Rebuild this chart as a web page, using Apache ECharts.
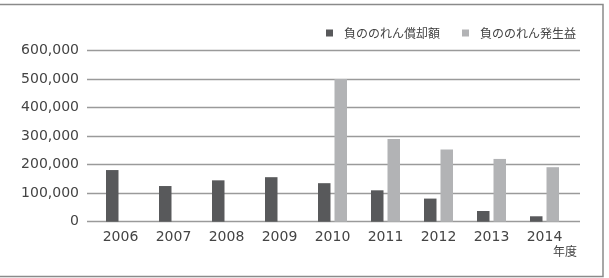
<!DOCTYPE html>
<html>
<head>
<meta charset="utf-8">
<script src="https://cdn.jsdelivr.net/npm/echarts@6/dist/echarts.min.js"></script>
<style>
  html, body { margin: 0; padding: 0; background: #fff; }
  #chart { width: 609px; height: 278px; }
</style>
</head>
<body>
<div id="chart"></div>
<script>
// data
const years = ["2006", "2007", "2008", "2009", "2010", "2011", "2012", "2013", "2014"];
const amortization = [181000, 125000, 145000, 156000, 135000, 110000, 81000, 37500, 19000];
const gain = [null, null, null, null, 500000, 290000, 253000, 220000, 191000];
const seriesNames = ["負ののれん償却額", "負ののれん発生益"];
const xName = "年度";

const font = "DejaVu Sans, 'Noto Sans CJK JP', sans-serif";
const cjkFont = "'Noto Sans CJK JP', sans-serif";

const chart = echarts.init(document.getElementById("chart"));

const option = {
  animation: false,
  backgroundColor: "#fff",
  // outer frame
  graphic: [
    {
      type: "rect",
      shape: { x: -2, y: 4.5, width: 605, height: 272 },
      style: { fill: "none", stroke: "#8a8a8a", lineWidth: 1.5 },
      silent: true,
    },
  ],
  legend: {
    left: 321,
    top: 22,
    icon: "rect",
    itemWidth: 7,
    itemHeight: 7,
    itemGap: 22,
    data: seriesNames,
    textStyle: {
      fontFamily: cjkFont,
      fontSize: 12,
      color: "#444",
      padding: [0, 0, 0, 6],
    },
  },
  grid: [
    // grid for the value axis and the gridlines (slightly wider)
    { left: 87, right: 29, top: 50.5, bottom: 56.3 },
    // grid for the bars
    { left: 94, right: 38, top: 50.5, bottom: 56.3 },
  ],
  xAxis: [
    {
      gridIndex: 0,
      type: "category",
      data: years,
      show: false,
    },
    {
      gridIndex: 1,
      type: "category",
      data: years,
      axisLine: { show: false },
      axisTick: { show: false },
      axisLabel: {
        color: "#444",
        fontFamily: font,
        fontSize: 14,
        margin: 9,
      },
    },
  ],
  yAxis: [
    {
      gridIndex: 0,
      type: "value",
      min: 0,
      max: 600000,
      interval: 100000,
      axisLine: { show: false },
      axisTick: { show: false },
      axisLabel: {
        color: "#444",
        fontFamily: font,
        fontSize: 14,
        margin: 8,
        formatter: (v) => v.toLocaleString("en-US"),
      },
      splitLine: { lineStyle: { color: "#9a9a9a", width: 1.3 } },
    },
    {
      gridIndex: 1,
      type: "value",
      min: 0,
      max: 600000,
      interval: 100000,
      show: false,
      splitLine: { show: false },
    },
  ],
  series: [
    {
      name: seriesNames[0],
      type: "bar",
      xAxisIndex: 1,
      yAxisIndex: 1,
      data: amortization,
      barWidth: 12.5,
      barGap: "32%",
      itemStyle: { color: "#58595b" },
    },
    {
      name: seriesNames[1],
      type: "bar",
      xAxisIndex: 1,
      yAxisIndex: 1,
      data: gain,
      barWidth: 12.5,
      itemStyle: { color: "#b2b3b5" },
    },
  ],
};

chart.setOption(option);

// axis unit label under the last category
chart.setOption({
  graphic: [
    option.graphic[0],
    {
      type: "text",
      left: 553,
      top: 245,
      style: { text: xName, font: "12px " + cjkFont, fill: "#444" },
      silent: true,
    },
  ],
});
</script>
</body>
</html>
